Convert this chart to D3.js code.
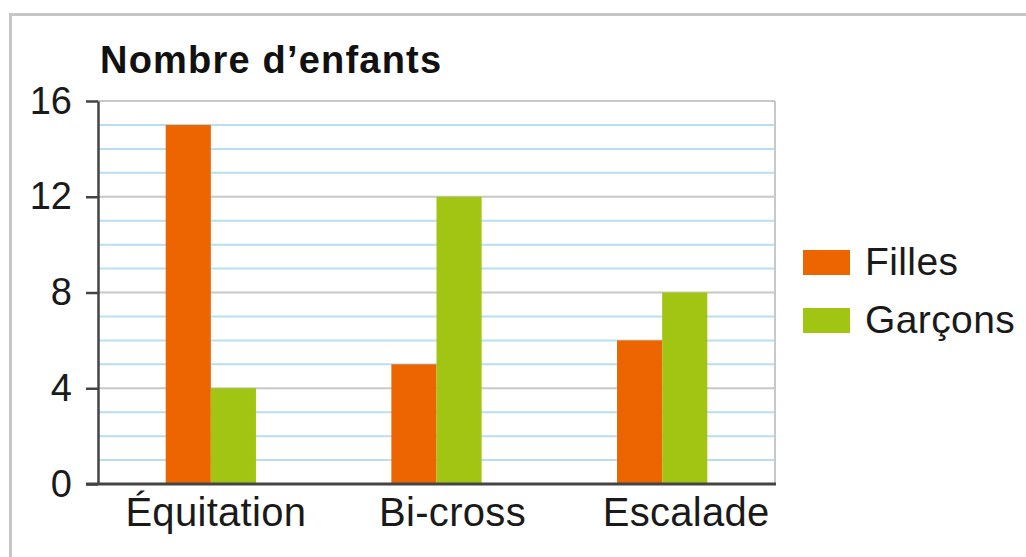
<!DOCTYPE html>
<html>
<head>
<meta charset="utf-8">
<script src="https://d3js.org/d3.v7.min.js"></script>
<style>
  body { margin: 0; background: #fff; }
  svg { display: block; font-family: "Liberation Sans", Arial, sans-serif; }
</style>
</head>
<body>
<script>
// données
var categories = ["Équitation", "Bi-cross", "Escalade"];
var series = ["Filles", "Garçons"];
var filles = [15, 5, 6];
var garcons = [4, 12, 8];
var yTicks = [0, 4, 8, 12, 16];
var colors = ["#ec6500", "#a2c413"];

var W = 1026, H = 557;
var plot = {left: 98, right: 775, top: 101, bottom: 484};
// les libellés de l'original ne sont pas tout à fait centrés sous les barres
var labelShift = [5, 16, 24];

var svg = d3.select("body").append("svg")
  .attr("width", W).attr("height", H);

// cadre extérieur
svg.append("path")
  .attr("d", "M10.5," + H + " V14.5 H" + W)
  .attr("fill", "none").attr("stroke", "#c6c6c6").attr("stroke-width", 3);

var x = d3.scaleBand().domain(categories)
  .range([plot.left, plot.right]).paddingInner(0.6).paddingOuter(0.3);
var xs = d3.scaleBand().domain(series).range([0, x.bandwidth()]);
var y = d3.scaleLinear().domain([0, 16]).range([plot.bottom, plot.top]);

// lignes de grille : bleu clair chaque unité, gris tous les 4
svg.append("g").selectAll("line")
  .data(d3.range(1, 16).filter(function(v) { return v % 4 != 0; }))
  .join("line")
  .attr("x1", plot.left).attr("x2", plot.right)
  .attr("y1", function(d) { return y(d); }).attr("y2", function(d) { return y(d); })
  .attr("stroke", "#b9def2").attr("stroke-width", 2);

svg.append("g").selectAll("line")
  .data([4, 8, 12, 16])
  .join("line")
  .attr("x1", plot.left).attr("x2", plot.right)
  .attr("y1", function(d) { return y(d); }).attr("y2", function(d) { return y(d); })
  .attr("stroke", "#c8c8c8").attr("stroke-width", 2);

// bord droit
svg.append("line")
  .attr("x1", plot.right).attr("x2", plot.right)
  .attr("y1", plot.top).attr("y2", plot.bottom)
  .attr("stroke", "#c8c8c8").attr("stroke-width", 2);

// barres
var rows = categories.map(function(c, i) {
  return {cat: c, values: [filles[i], garcons[i]]};
});
svg.append("g").selectAll("g")
  .data(rows)
  .join("g")
  .attr("transform", function(d) { return "translate(" + x(d.cat) + ",0)"; })
  .selectAll("rect")
  .data(function(d) { return d.values.map(function(v, j) { return {s: series[j], v: v, j: j}; }); })
  .join("rect")
  .attr("x", function(d) { return xs(d.s); })
  .attr("width", xs.bandwidth())
  .attr("y", function(d) { return y(d.v); })
  .attr("height", function(d) { return y(0) - y(d.v); })
  .attr("fill", function(d) { return colors[d.j]; });

// axe Y
var yAxis = svg.append("g")
  .attr("transform", "translate(" + plot.left + ",0)")
  .call(d3.axisLeft(y).tickValues(yTicks).tickSize(12).tickPadding(14).tickSizeOuter(0));
yAxis.select(".domain").attr("stroke", "#444").attr("stroke-width", 2.5);
yAxis.selectAll(".tick line").attr("stroke", "#444").attr("stroke-width", 2.5);
yAxis.selectAll(".tick text").attr("font-size", 38).attr("fill", "#1a1a1a")
  .attr("font-family", "Liberation Sans, Arial, sans-serif");

// axe X
var xAxis = svg.append("g")
  .attr("transform", "translate(0," + plot.bottom + ")")
  .call(d3.axisBottom(x).tickSize(0).tickPadding(14).tickSizeOuter(0));
xAxis.select(".domain").attr("stroke", "#444").attr("stroke-width", 3)
  .attr("d", "M" + (plot.left - 12) + ",0H" + (plot.right + 1));
xAxis.selectAll(".tick text").attr("font-size", 40).attr("fill", "#1a1a1a")
  .attr("letter-spacing", 0.3)
  .attr("dx", function(d, i) { return labelShift[i]; })
  .attr("font-family", "Liberation Sans, Arial, sans-serif");

// titre
svg.append("text")
  .attr("x", 100).attr("y", 73)
  .attr("font-size", 38).attr("font-weight", "bold").attr("fill", "#111")
  .attr("letter-spacing", 1.2)
  .text("Nombre d’enfants");

// légende
var leg = svg.append("g").selectAll("g")
  .data(series)
  .join("g")
  .attr("transform", function(d, i) { return "translate(803," + (250 + i * 58) + ")"; });
leg.append("rect").attr("width", 47).attr("height", 25)
  .attr("fill", function(d, i) { return colors[i]; });
leg.append("text").attr("x", 62).attr("y", 25)
  .attr("font-size", 39).attr("fill", "#1a1a1a")
  .attr("letter-spacing", 0.4)
  .text(function(d) { return d; });
</script>
</body>
</html>
